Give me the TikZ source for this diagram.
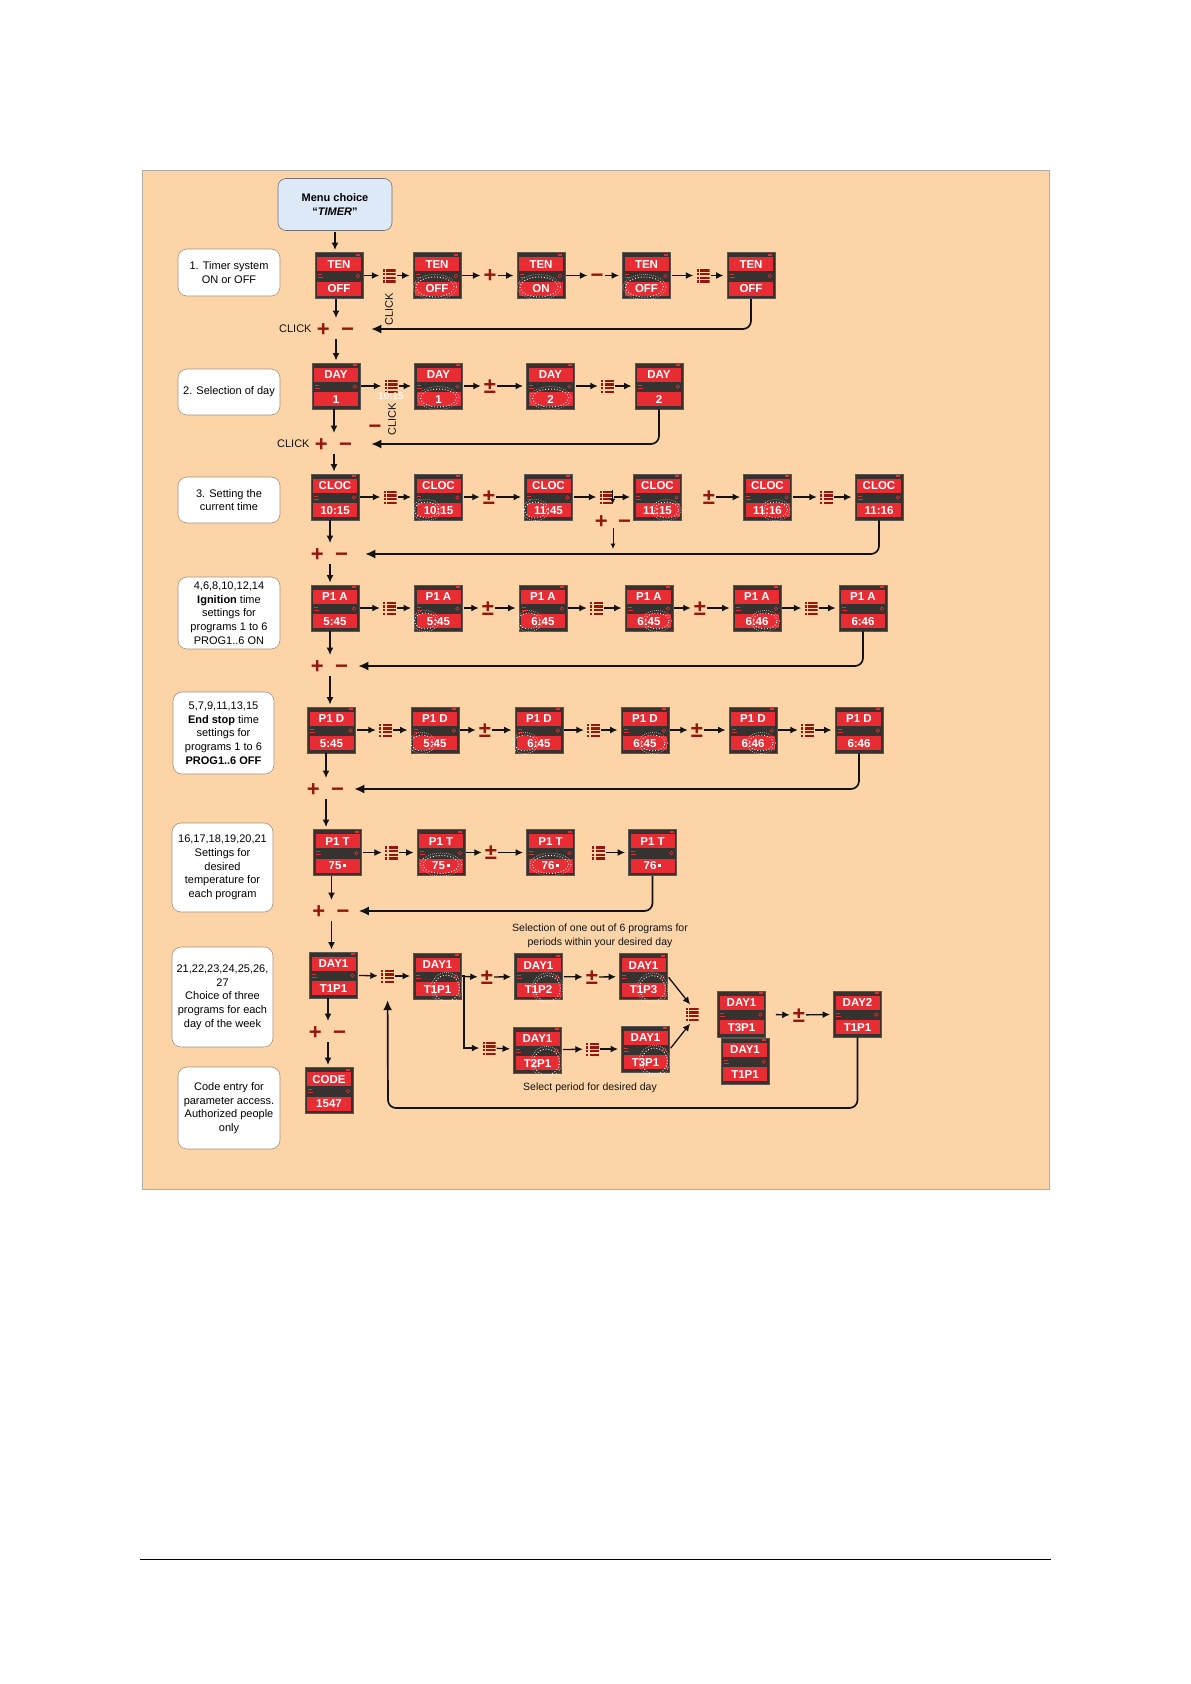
\documentclass[tikz,border=0pt]{standalone}
\usepackage{fontspec}
\setmainfont{Liberation Sans}
\usepackage{tikz}
\usetikzlibrary{arrows.meta, positioning}
\definecolor{bgpeach}{RGB}{252,212,168}
\definecolor{bgframe}{RGB}{178,172,166}
\definecolor{lcdred}{RGB}{232,44,52}
\definecolor{lcdgrey}{RGB}{54,50,48}
\definecolor{lcdedge}{RGB}{92,86,80}
\definecolor{signred}{RGB}{148,22,12}
\definecolor{mydark}{RGB}{18,18,18}
\definecolor{menublue}{RGB}{222,233,248}
\definecolor{menuframe}{RGB}{110,110,120}
\definecolor{lblframe}{RGB}{165,145,125}
\tikzset{
  lcdframe/.style={rectangle, fill=lcdgrey, draw=lcdedge, line width=0.9pt,
    minimum width=48pt, minimum height=46pt, inner sep=0pt},
  lcdband/.style={rectangle, fill=lcdred, minimum width=44pt,
    minimum height=14pt, inner sep=0pt, text=white,
    font=\fontsize{11.5}{11.5}\selectfont\bfseries},
  lcdmark/.style={color=lcdred},
  blinkring/.style={draw=white, line width=0.9pt, dotted},
  menubox/.style={rectangle, draw=menuframe, fill=menublue, rounded corners=8pt,
    minimum width=114pt, minimum height=52pt, align=center, line width=0.6pt,
    font=\fontsize{11}{13.5}\selectfont\bfseries},
  labelbox/.style={rectangle, draw=lblframe, fill=white, rounded corners=9pt,
    align=center, inner sep=1pt, line width=0.6pt,
    font=\fontsize{11}{13.7}\selectfont},
  menuicon/.style={rectangle, fill=bgpeach, inner sep=0pt,
    minimum width=13pt, minimum height=14pt,
    path picture={
      \foreach \r in {0,1,2,3}{
        \fill[signred] ([yshift=-\r*3.7pt-0.6pt]path picture bounding box.north west)
          rectangle ++(2.4pt,-2.4pt);
        \fill[signred] ([xshift=3.8pt,yshift=-\r*3.7pt-0.6pt]path picture bounding box.north west)
          rectangle ++(9.2pt,-2.4pt);
      }}},
  signtext/.style={text=signred, inner sep=0pt, text height=14pt, text depth=0pt,
    font=\fontsize{22}{22}\selectfont\bfseries},
  clicktext/.style={text=mydark, inner sep=1pt, font=\fontsize{11}{11}\selectfont},
  clickrot/.style={clicktext, rotate=90},
  notetext/.style={text=mydark, align=center, inner sep=0pt,
    font=\fontsize{10.5}{14}\selectfont},
  arrow/.style={-{Latex[length=7.5pt,width=7pt]}, line width=1.3pt, color=mydark,
    shorten <=1pt, shorten >=3pt},
  thinarrow/.style={-{Latex[length=5.5pt,width=5pt]}, line width=0.8pt, color=mydark},
  backarrow/.style={-{Latex[length=10pt,width=9pt]}, line width=1.7pt, color=mydark,
    rounded corners=8pt}
}
% display: name, centre, upper text, lower text
\newcommand{\lcd}[4]{%
  \node[lcdframe] (#1) at (#2) {};
  \node[lcdband] (#1t) at ([yshift=-12pt]#1.north) {#3};
  \node[lcdband] (#1b) at ([yshift=10pt]#1.south) {#4};
  \fill[lcdmark] ([xshift=-7pt,yshift=-1.5pt]#1.north east) rectangle ([xshift=-3pt,yshift=-3.5pt]#1.north east);
  \draw[lcdmark, line width=0.6pt] ([xshift=-5.5pt,yshift=-24pt]#1.north east) circle (1.8pt);
  \fill[lcdmark] ([xshift=3pt,yshift=-22pt]#1.north west) rectangle ([xshift=7pt,yshift=-23pt]#1.north west);
  \fill[lcdmark] ([xshift=3pt,yshift=-25pt]#1.north west) rectangle ([xshift=8pt,yshift=-26pt]#1.north west);
}
% blinking digits: name, dx, dy, x radius, y radius
\newcommand{\blink}[5]{%
  \draw[blinkring] ([xshift=#2pt,yshift=#3pt]#1.center) ellipse ({#4pt} and {#5pt});
  \draw[blinkring, line width=0.6pt, dash pattern=on 0.5pt off 1.5pt]
    ([xshift=#2pt,yshift=#3pt]#1.center) ellipse ({#4pt+2.5pt} and {#5pt+2.5pt});
}
\newcommand{\tempdot}{\,\rule[2.5pt]{3pt}{3pt}}

\begin{document}
\begin{tikzpicture}[x=1pt, y=-1pt]
  \useasboundingbox (0,0) rectangle (1191,1684);
  \draw[draw=bgframe, fill=bgpeach, line width=0.8pt] (142,170) rectangle (1049,1189);
  \draw[line width=1pt] (140,1559) -- (1051,1559);

  \node[menubox] (menu) at (335,204.5) {Menu choice\\“\textit{TIMER}”};

  % step labels
  \node[labelbox, minimum width=102pt, minimum height=47pt] (lab1) at (229,272.5) {1. Timer system\\ON or OFF};
  \node[labelbox, minimum width=102pt, minimum height=46pt] (lab2) at (229,392) {2. Selection of day};
  \node[labelbox, minimum width=102pt, minimum height=46pt] (lab3) at (229,500) {3. Setting the\\current time};
  \node[labelbox, minimum width=102pt, minimum height=72pt] (lab4) at (229,613) {4,6,8,10,12,14\\\textbf{Ignition} time\\settings for\\programs 1 to 6\\PROG1..6 ON};
  \node[labelbox, minimum width=101pt, minimum height=82pt] (lab5) at (223.5,733) {5,7,9,11,13,15\\\textbf{End stop} time\\settings for\\programs 1 to 6\\\textbf{PROG1..6 OFF}};
  \node[labelbox, minimum width=101pt, minimum height=89pt] (lab6) at (222.5,867.5) {16,17,18,19,20,21\\Settings for\\desired\\temperature for\\each program};
  \node[labelbox, minimum width=101pt, minimum height=100pt] (lab7) at (222.5,997) {21,22,23,24,25,26,\\27\\Choice of three\\programs for each\\day of the week};
  \node[labelbox, minimum width=102pt, minimum height=82pt] (lab8) at (229,1108) {Code entry for\\parameter access.\\Authorized people\\only};

  % 1. timer on/off
  \lcd{d1}{339,275.5}{TEN}{OFF}
  \node[menuicon] (i1a) at (389,275.5) {};
  \lcd{d2}{437,275.5}{TEN}{OFF}
  \node[signtext] (s1a) at (490,275.5) {+};
  \lcd{d3}{541,275.5}{TEN}{ON}
  \node[signtext] (s1b) at (597,275.5) {−};
  \lcd{d4}{646.5,275.5}{TEN}{OFF}
  \node[menuicon] (i1b) at (703,275.5) {};
  \lcd{d5}{751,275.5}{TEN}{OFF}
  \blink{d2}{-2}{-11.5}{19}{10}
  \blink{d3}{-2}{-11.5}{19}{10}
  \blink{d4}{-2}{-11.5}{19}{10}
  \draw[arrow] (d1) -- (i1a);
  \draw[arrow] (i1a) -- (d2);
  \draw[arrow] (d2) -- (s1a);
  \draw[arrow] (s1a) -- (d3);
  \draw[arrow] (d3) -- (s1b);
  \draw[arrow] (s1b) -- (d4);
  \draw[arrow] (d4) -- (i1b);
  \draw[arrow] (i1b) -- (d5);
  \coordinate (k1) at (336,329);
  \node[signtext, left=6pt of k1] (p1) {+};
  \node[signtext, right=5pt of k1] (m1) {−};
  \node[clicktext, left=4pt of p1] (click1) {CLICK};
  \node[clickrot] (clickr1) at (389,309) {CLICK};
  \draw[arrow, shorten >=2pt] (menu) -- (menu.south |- d1.north);
  \draw[arrow, shorten <=0pt, shorten >=11pt] (k1 |- d1.south) -- (k1);
  \draw[backarrow, shorten >=17pt] (d5.south) |- (m1);

  % 2. day
  \lcd{d6}{336,386}{DAY}{1}
  \node[menuicon] (i2a) at (391,386) {};
  \lcd{d7}{438.5,386}{DAY}{1}
  \node[signtext] (s2a) at (490,386) {±};
  \lcd{d8}{550.5,386}{DAY}{2}
  \node[menuicon] (i2b) at (607.5,386) {};
  \lcd{d9}{659,386}{DAY}{2}
  \blink{d7}{0}{-12}{18}{9}
  \blink{d8}{0}{-12}{18}{9}
  \draw[arrow] (d6) -- (i2a);
  \draw[arrow] (i2a) -- (d7);
  \draw[arrow] (d7) -- (s2a);
  \draw[arrow] (s2a) -- (d8);
  \draw[arrow] (d8) -- (i2b);
  \draw[arrow] (i2b) -- (d9);
  \node[text=white, opacity=0.85, inner sep=0pt, font=\fontsize{10}{10}\selectfont\bfseries] (ghost) at (391,396) {10:15};
  \node[clickrot] (clickr2) at (392,419) {CLICK};
  \node[signtext] (s2x) at (375,426) {−};
  \coordinate (k2) at (334,444);
  \node[signtext, left=6pt of k2] (p2) {+};
  \node[signtext, right=5pt of k2] (m2) {−};
  \node[clicktext, left=4pt of p2] (click2) {CLICK};
  \draw[arrow, shorten <=10pt, shorten >=2pt] (k1) -- (k1 |- d6.north);
  \draw[arrow, shorten <=0pt, shorten >=11pt] (k2 |- d6.south) -- (k2);
  \draw[backarrow, shorten >=19pt] (d9.south) |- (m2);

  % 3. clock
  \lcd{d10}{335,497}{CLOC}{10:15}
  \node[menuicon] (i3a) at (390,497) {};
  \lcd{d11}{438.5,497}{CLOC}{10:15}
  \node[signtext] (s3a) at (489,497) {±};
  \lcd{d12}{548.5,497}{CLOC}{11:45}
  \node[menuicon] (i3b) at (606,497) {};
  \lcd{d13}{657.5,497}{CLOC}{11:15}
  \node[signtext] (s3b) at (709,497) {±};
  \lcd{d14}{767.5,497}{CLOC}{11:16}
  \node[menuicon] (i3c) at (826.5,497) {};
  \lcd{d15}{879,497}{CLOC}{11:16}
  \blink{d11}{-12}{-13}{12}{8}
  \blink{d12}{-13}{-13}{11}{8}
  \blink{d13}{9}{-13}{12}{8}
  \blink{d14}{8}{-13}{12}{8}
  \draw[arrow] (d10) -- (i3a);
  \draw[arrow] (i3a) -- (d11);
  \draw[arrow] (d11) -- (s3a);
  \draw[arrow] (s3a) -- (d12);
  \draw[arrow] (d12) -- (i3b);
  \draw[arrow] (i3b) -- (d13);
  \draw[arrow] (s3b) -- (d14);
  \draw[arrow] (d14) -- (i3c);
  \draw[arrow] (i3c) -- (d15);
  \coordinate (k3b) at (613,521);
  \node[signtext, left=5pt of k3b] (p3b) {+};
  \node[signtext, right=5pt of k3b] (m3b) {−};
  \coordinate (c3b) at (613,549);
  \draw[thinarrow] (i3b.north east) -- (i3b.south east);
  \draw[thinarrow, shorten <=7pt] (k3b) -- (c3b);
  \coordinate (k3) at (330,554);
  \node[signtext, left=6pt of k3] (p3) {+};
  \node[signtext, right=5pt of k3] (m3) {−};
  \draw[arrow, shorten <=10pt, shorten >=2pt] (k2) -- (k2 |- d10.north);
  \draw[arrow, shorten <=0pt, shorten >=11pt] (k3 |- d10.south) -- (k3);
  \draw[backarrow, shorten >=17pt] (d15.south) |- (m3);

  % ignition times
  \lcd{d16}{335,608}{P1 A}{5:45}
  \node[menuicon] (i4a) at (389.5,608) {};
  \lcd{d17}{438.5,608}{P1 A}{5:45}
  \node[signtext] (s4a) at (488,608) {±};
  \lcd{d18}{543,608}{P1 A}{6:45}
  \node[menuicon] (i4b) at (596.5,608) {};
  \lcd{d19}{649,608}{P1 A}{6:45}
  \node[signtext] (s4b) at (700,608) {±};
  \lcd{d20}{757,608}{P1 A}{6:46}
  \node[menuicon] (i4c) at (811,608) {};
  \lcd{d21}{863,608}{P1 A}{6:46}
  \blink{d17}{-13}{-13}{11}{8}
  \blink{d18}{-14}{-13}{11}{8}
  \blink{d19}{8}{-13}{12}{8}
  \blink{d20}{8}{-13}{12}{8}
  \draw[arrow] (d16) -- (i4a);
  \draw[arrow] (i4a) -- (d17);
  \draw[arrow] (d17) -- (s4a);
  \draw[arrow] (s4a) -- (d18);
  \draw[arrow] (d18) -- (i4b);
  \draw[arrow] (i4b) -- (d19);
  \draw[arrow] (d19) -- (s4b);
  \draw[arrow] (s4b) -- (d20);
  \draw[arrow] (d20) -- (i4c);
  \draw[arrow] (i4c) -- (d21);
  \coordinate (k4) at (330,666);
  \node[signtext, left=6pt of k4] (p4) {+};
  \node[signtext, right=5pt of k4] (m4) {−};
  \draw[arrow, shorten <=10pt, shorten >=2pt] (k3) -- (k3 |- d16.north);
  \draw[arrow, shorten <=0pt, shorten >=11pt] (k4 |- d16.south) -- (k4);
  \draw[backarrow, shorten >=10pt] (d21.south) |- (m4);

  % end stop times
  \lcd{d22}{331.5,730}{P1 D}{5:45}
  \node[menuicon] (i5a) at (385.5,730) {};
  \lcd{d23}{435,730}{P1 D}{5:45}
  \node[signtext] (s5a) at (485,730) {±};
  \lcd{d24}{539,730}{P1 D}{6:45}
  \node[menuicon] (i5b) at (593.5,730) {};
  \lcd{d25}{645,730}{P1 D}{6:45}
  \node[signtext] (s5b) at (697,730) {±};
  \lcd{d26}{753,730}{P1 D}{6:46}
  \node[menuicon] (i5c) at (807.5,730) {};
  \lcd{d27}{859,730}{P1 D}{6:46}
  \blink{d23}{-13}{-13}{11}{8}
  \blink{d24}{-14}{-13}{11}{8}
  \blink{d25}{8}{-13}{12}{8}
  \blink{d26}{8}{-13}{12}{8}
  \draw[arrow] (d22) -- (i5a);
  \draw[arrow] (i5a) -- (d23);
  \draw[arrow] (d23) -- (s5a);
  \draw[arrow] (s5a) -- (d24);
  \draw[arrow] (d24) -- (i5b);
  \draw[arrow] (i5b) -- (d25);
  \draw[arrow] (d25) -- (s5b);
  \draw[arrow] (s5b) -- (d26);
  \draw[arrow] (d26) -- (i5c);
  \draw[arrow] (i5c) -- (d27);
  \coordinate (k5) at (326,789);
  \node[signtext, left=6pt of k5] (p5) {+};
  \node[signtext, right=5pt of k5] (m5) {−};
  \draw[arrow, shorten <=10pt, shorten >=2pt] (k4) -- (k4 |- d22.north);
  \draw[arrow, shorten <=0pt, shorten >=11pt] (k5 |- d22.south) -- (k5);
  \draw[backarrow, shorten >=10pt] (d27.south) |- (m5);

  % temperatures
  \lcd{d28}{337.5,852.5}{P1 T}{75\tempdot}
  \node[menuicon] (i6a) at (391.5,852.5) {};
  \lcd{d29}{441,852.5}{P1 T}{75\tempdot}
  \node[signtext] (s6a) at (491,852.5) {±};
  \lcd{d30}{550.5,852.5}{P1 T}{76\tempdot}
  \node[menuicon] (i6b) at (598.5,852.5) {};
  \lcd{d31}{652.5,852.5}{P1 T}{76\tempdot}
  \blink{d29}{0}{-12}{18}{9}
  \blink{d30}{0}{-12}{18}{9}
  \draw[arrow] (d28) -- (i6a);
  \draw[arrow] (i6a) -- (d29);
  \draw[arrow] (d29) -- (s6a);
  \draw[arrow] (s6a) -- (d30);
  \draw[arrow] (i6b) -- (d31);
  \coordinate (k6) at (331.5,911);
  \node[signtext, left=6pt of k6] (p6) {+};
  \node[signtext, right=5pt of k6] (m6) {−};
  \draw[arrow, shorten <=10pt, shorten >=2pt] (k5) -- (k5 |- d28.north);
  \draw[arrow, shorten <=0pt, shorten >=11pt] (k6 |- d28.south) -- (k6);
  \draw[backarrow, shorten >=9pt] (d31.south) |- (m6);

  % weekly programs
  \node[notetext] (selnote) at (600,935.5) {Selection of one out of 6 programs for\\periods within your desired day};
  \lcd{d32}{333.5,975}{DAY1}{T1P1}
  \node[menuicon] (i7a) at (387.5,976) {};
  \lcd{d33}{437.5,976}{DAY1}{T1P1}
  \node[signtext] (s7a) at (487,977) {±};
  \lcd{d34}{538.5,976.5}{DAY1}{T1P2}
  \node[signtext] (s7b) at (592,977) {±};
  \lcd{d35}{643.5,976.5}{DAY1}{T1P3}
  \node[menuicon] (i7b) at (489,1048) {};
  \lcd{d36}{537.5,1050}{DAY1}{T2P1}
  \node[menuicon] (i7d) at (592.5,1049) {};
  \lcd{d37}{645.5,1049}{DAY1}{T3P1}
  \node[menuicon] (i7c) at (692,1014) {};
  \lcd{d38}{741.5,1014}{DAY1}{T3P1}
  \lcd{d39}{745,1061}{DAY1}{T1P1}
  \node[signtext] (s7c) at (799,1015) {±};
  \lcd{d40}{857.5,1014}{DAY2}{T1P1}
  \lcd{d41}{329,1090.5}{CODE}{1547}
  \blink{d33}{9}{-12}{13}{13}
  \blink{d34}{9}{-12}{13}{13}
  \blink{d35}{9}{-12}{13}{13}
  \blink{d36}{9}{-12}{13}{13}
  \blink{d37}{9}{-12}{13}{13}
  \node[notetext] (pernote) at (590,1088) {Select period for desired day};
  \draw[arrow] (d32) -- (i7a);
  \draw[arrow] (i7a) -- (d33);
  \draw[arrow] (d33) -- (s7a);
  \draw[arrow] (s7a) -- (d34);
  \draw[arrow] (d34) -- (s7b);
  \draw[arrow] (s7b) -- (d35);
  \draw[arrow, shorten <=0pt] (d33.east) -- ++(2,0) |- (i7b);
  \draw[arrow] (i7b) -- (d36);
  \draw[arrow] (d36) -- (i7d);
  \draw[arrow] (i7d) -- (d37);
  \draw[arrow] (d35.east) -- (i7c.north);
  \draw[arrow] (d37.east) -- (i7c.south);
  \draw[arrow, shorten <=10pt] (d38) -- (s7c);
  \draw[arrow] (s7c) -- (d40);
  \coordinate (r7) at (388,1108);
  \draw[backarrow, shorten >=17pt] (d40.south) |- (r7) -- (i7a);
  \coordinate (k7) at (328,1032);
  \node[signtext, left=6pt of k7] (p7) {+};
  \node[signtext, right=5pt of k7] (m7) {−};
  \draw[arrow, shorten <=10pt, shorten >=2pt] (k6) -- (k6 |- d32.north);
  \draw[arrow, shorten <=0pt, shorten >=11pt] (k7 |- d32.south) -- (k7);
  \draw[arrow, shorten <=10pt, shorten >=2pt] (k7) -- (k7 |- d41.north);
\end{tikzpicture}
\end{document}
